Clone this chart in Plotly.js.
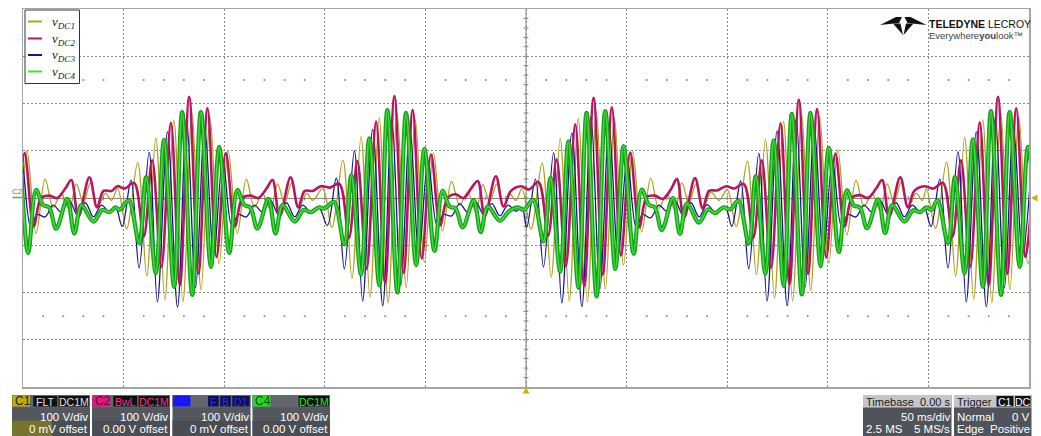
<!DOCTYPE html>
<html>
<head>
<meta charset="utf-8">
<script src="https://cdn.plot.ly/plotly-3.0.1.min.js"></script>
<style>
  html, body { margin: 0; padding: 0; background: #ffffff; overflow: hidden; }
  #scope { width: 1041px; height: 436px; }
</style>
</head>
<body>
<div id="scope"></div>
<script>
// Turning points of each channel: time in ms, voltage in V (100 V/div, 50 ms/div)
const tDC1 = [-7, -2.5, 2, 6.5, 11, 15, 19, 23, 26.5, 30, 33.5, 37, 41, 44, 47,
  51.5, 57, 61.5, 66, 70.5, 75, 79.5, 84, 88.5, 93, 97.5, 102, 106.5, 111, 115, 119, 123, 126.5, 130, 133.5, 137, 141, 144, 149,
  153.5, 159, 163.5, 168, 172.5, 177, 181.5, 186, 190.5, 195, 199.5, 204, 208.5, 213, 217, 221, 225, 228.5, 232, 235.5, 239, 242, 245, 248,
  252.5, 258, 262.5, 267, 271.5, 276, 280.5, 285, 289.5, 294, 298.5, 303, 307.5, 312, 316, 320, 324, 327.5, 331, 334.5, 338, 342, 346, 350,
  354.5, 360, 364.5, 369, 373.5, 378, 382.5, 387, 391.5, 396, 400.5, 405, 409.5, 414, 418, 422, 426, 429.5, 433, 436.5, 440, 444, 447, 449,
  453.5, 459, 463.5, 468, 472.5, 477, 481.5, 486, 490.5, 495, 499.5, 504];
const vDC1 = [170, -140, 100, -75, 40, -20, 10, -25, 30, -10, 32, -20, 10, -5, 20,
  -65, 75, -165, 127, -215, 165, -220, 180, -195, 170, -140, 100, -75, 40, -20, 10, -25, 30, -10, 32, -20, 10, -5, 20,
  -62, 80, -170, 130, -210, 170, -222, 178, -190, 165, -135, 95, -70, 35, -15, 12, -28, 28, -8, 30, -18, 8, -5, 20,
  -66, 74, -168, 126, -218, 168, -220, 182, -192, 168, -142, 98, -72, 42, -22, 8, -24, 32, -12, 30, -22, 12, -5, 18,
  -60, 78, -162, 124, -212, 162, -218, 178, -196, 172, -138, 102, -78, 38, -18, 10, -26, 30, -10, 34, -20, 10, -5, 20,
  -64, 76, -166, 128, -214, 166, -222, 180, -194, 170, -140, 100];

const tDC2 = [-8.3, -3.8, 0.8, 5.3, 9, 13, 17, 21, 24, 27.5, 33, 36.8, 40, 44, 47,
  50.5, 55.2, 60, 64.2, 68.8, 73.5, 78, 82.6, 87.2, 91.7, 96.2, 100.8, 105.3, 109, 113, 117, 121, 124, 127.5, 133, 136.8, 140, 144, 148,
  152.5, 157.2, 162, 166.2, 170.8, 175.5, 180, 184.6, 189.2, 193.7, 198.2, 202.8, 207.3, 211, 215, 219, 223, 226, 229.5, 235, 238.8, 242.5, 247.5,
  251.5, 256.2, 261, 265.2, 269.8, 274.5, 279, 283.6, 288.2, 292.7, 297.2, 301.8, 306.3, 310, 314, 318, 322, 325, 328.5, 334, 337.8, 341, 345, 349.5,
  353.5, 358.2, 363, 367.2, 371.8, 376.5, 381, 385.6, 390.2, 394.7, 399.2, 403.8, 408.3, 412, 416, 420, 424, 427, 430.5, 436, 439.8, 443, 448,
  452.5, 457.2, 462, 466.2, 470.8, 475.5, 480, 484.6, 489.2, 493.7, 498.2, 502.8];
const vDC2 = [190, -125, 95, -60, 0, 5, 0, 20, 38, -40, 44, -20, 15, 15, 25,
  20, 32, -82, 80, -146, 159, -184, 214, -160, 190, -125, 95, -60, 0, 5, 0, 20, 38, -40, 44, -20, 15, 15, 25,
  22, 30, -85, 78, -150, 162, -180, 216, -158, 186, -128, 92, -58, 0, 8, 0, 22, 36, -38, 46, -18, 15, 25,
  18, 34, -80, 82, -144, 156, -186, 212, -162, 192, -122, 96, -62, 2, 5, -2, 18, 40, -42, 42, -22, 15, 16, 25,
  20, 30, -84, 80, -148, 158, -182, 208, -160, 188, -126, 94, -60, 0, 6, 0, 20, 38, -40, 44, -20, 15, 25,
  20, 32, -82, 80, -146, 160, -184, 214, -160, 190, -125, 95];

const tDC3 = [-9.7, -5.2, -0.7, 3.8, 7, 11, 15, 19, 23, 27, 31, 35, 39, 43, 46,
  49.3, 53.7, 57.7, 62.7, 66.8, 71.8, 76.8, 81.3, 85.8, 90.3, 94.8, 99.3, 103.8, 107, 111, 115, 119, 123, 127, 131, 135, 139, 143, 147,
  151.3, 155.7, 159.7, 164.7, 168.8, 173.8, 178.8, 183.3, 187.8, 192.3, 196.8, 201.3, 205.8, 209, 213, 217, 221, 225, 229, 233, 237, 241, 245, 248,
  250.3, 254.7, 258.7, 263.7, 267.8, 272.8, 277.8, 282.3, 286.8, 291.3, 295.8, 300.3, 304.8, 308, 312, 316, 320, 324, 328, 332, 336, 340, 344, 349,
  352.3, 356.7, 360.7, 365.7, 369.8, 374.8, 379.8, 384.3, 388.8, 393.3, 397.8, 402.3, 406.8, 410, 414, 418, 422, 426, 430, 434, 438, 442, 446, 448,
  451.3, 455.7, 459.7, 464.7, 468.8, 473.8, 478.8, 483.3, 487.8, 492.3, 496.8, 501.3];
const vDC3 = [150, -120, 80, -60, -35, -40, -15, -30, -5, -35, -10, -40, -15, -30, -20,
  -60, 38, -148, 97, -220, 140, -231, 170, -190, 150, -120, 80, -60, -35, -40, -15, -30, -5, -35, -10, -40, -15, -30, -20,
  -58, 42, -150, 100, -218, 145, -228, 168, -185, 148, -118, 78, -58, -35, -38, -12, -30, -8, -35, -12, -38, -15, -28, -20,
  -62, 40, -146, 96, -222, 138, -230, 172, -192, 152, -122, 82, -62, -35, -42, -15, -28, -5, -36, -10, -40, -14, -30, -20,
  -60, 36, -150, 95, -218, 142, -228, 168, -188, 148, -118, 78, -60, -35, -40, -15, -30, -5, -35, -10, -40, -15, -30, -20,
  -60, 40, -148, 98, -220, 140, -230, 170, -190, 150, -120, 80];

const tDC4 = [-11.6, -6.6, -2.5, 2.5, 6.5, 10, 13, 16.5, 22, 25.5, 29, 35, 39.5, 43, 46,
  48, 52.5, 57.7, 61.2, 66, 70.1, 75.1, 79.1, 84.1, 88.4, 93.4, 97.5, 102.5, 106.5, 110, 113, 116.5, 122, 125.5, 129, 135, 139.5, 143, 147,
  150, 154.5, 159.7, 163.2, 168, 172.1, 177.1, 181.1, 186.1, 190.4, 195.4, 199.5, 204.5, 208.5, 212, 215, 218.5, 224, 227.5, 231, 237, 241.5, 246,
  249, 253.5, 258.7, 262.2, 267, 271.1, 276.1, 280.1, 285.1, 289.4, 294.4, 298.5, 303.5, 307.5, 311, 314, 317.5, 323, 326.5, 330, 336, 340.5, 344, 348,
  351.5, 355.5, 360.7, 364.2, 369, 373.1, 378.1, 382.1, 387.1, 391.4, 396.4, 400.5, 405.5, 409.5, 413, 416, 419.5, 425, 428.5, 432, 438, 442.5, 446, 449,
  451.5, 454.5, 459.7, 463.2, 468, 472.1, 477.1, 481.1, 486.1, 490.4, 495.4, 499.5, 504.5];
const vDC4 = [182, -146, 108, -116, 17, -15, -20, -65, -2, -75, -15, -50, -25, -30, -20,
  -25, -5, -95, 44, -159, 123, -188, 182, -205, 182, -146, 108, -116, 17, -15, -20, -65, -2, -75, -15, -50, -25, -30, -20,
  -22, -8, -98, 48, -162, 126, -185, 186, -200, 180, -142, 104, -112, 15, -18, -22, -62, -5, -72, -18, -48, -28, -20,
  -25, -4, -92, 42, -156, 120, -190, 180, -208, 184, -150, 110, -118, 18, -14, -20, -68, 0, -76, -12, -52, -24, -32, -20,
  -24, -6, -96, 46, -160, 122, -186, 178, -204, 180, -144, 106, -114, 16, -16, -20, -64, -3, -74, -15, -50, -26, -30, -20,
  -25, -5, -95, 44, -159, 124, -188, 184, -205, 182, -146, 108, -116];

// Legend labels and channel readouts
const legendLabels = ['<i>v</i><sub><i>DC1</i></sub>', '<i>v</i><sub><i>DC2</i></sub>',
                      '<i>v</i><sub><i>DC3</i></sub>', '<i>v</i><sub><i>DC4</i></sub>'];
const channelNames = ['C1', 'C2', 'C3', 'C4'];
const voltsPerDiv = ['100 V/div', '100 V/div', '100 V/div', '100 V/div'];
const offsets = ['0 mV offset', '0.00 V offset', '0 mV offset', '0.00 V offset'];
const channelTags = [['FLT', 'DC1M'], ['BwL', 'DC1M'], ['F', 'B', 'D1'], ['DC1M']];

// ---- styling ----
const COL = { c1: '#aca21c', c2: '#b8145f', c3: '#16168c', c4dark: '#16a016', c4: '#40e040' };
const W = 1041, H = 436, L = 23, R = 1029, T = 9, B = 387;
const X0 = 0, X1 = 500, Y0 = -400, Y1 = 400;
const px = x => (x - L) / (R - L);
const py = y => (B - y) / (B - T);
const pathPx = pts => 'M ' + pts.map(p => px(p[0]).toFixed(5) + ' ' + py(p[1]).toFixed(5)).join(' L ') + ' Z';
const SANS = 'Liberation Sans, Arial, sans-serif';

const shapes = [];
const ann = [];
function rect(x0, y0, x1, y1, fill, line) {
  shapes.push({ type: 'rect', xref: 'paper', yref: 'paper', x0: px(x0), x1: px(x1), y0: py(y1), y1: py(y0),
    fillcolor: fill, line: line || { width: 0 }, layer: 'above' });
}
function seg(x0, y0, x1, y1, color, width) {
  shapes.push({ type: 'line', xref: 'paper', yref: 'paper', x0: px(x0), x1: px(x1), y0: py(y0), y1: py(y1),
    line: { color: color, width: width }, layer: 'above' });
}
function poly(pts, fill) {
  shapes.push({ type: 'path', xref: 'paper', yref: 'paper', path: pathPx(pts), fillcolor: fill, line: { width: 0 }, layer: 'above' });
}
function label(x, y, text, size, color, anchor, family) {
  ann.push({ xref: 'paper', yref: 'paper', x: px(x), y: py(y), text: text, showarrow: false,
    xanchor: anchor || 'left', yanchor: 'middle', borderpad: 0,
    font: { size: size, color: color, family: family || SANS } });
}

// centre cross with fine divisions
shapes.push({ type: 'line', xref: 'x', yref: 'y', x0: 250, x1: 250, y0: Y0, y1: Y1, line: { color: '#858585', width: 1 }, layer: 'below' });
for (let v = Y0 + 20; v < Y1; v += 20) {
  shapes.push({ type: 'line', xref: 'x', yref: 'y', x0: 248.8, x1: 251.2, y0: v, y1: v, line: { color: '#858585', width: 1 }, layer: 'below' });
}
for (let t = X0 + 10; t < X1; t += 10) {
  shapes.push({ type: 'line', xref: 'x', yref: 'y', x0: t, x1: t, y0: -5, y1: 5, line: { color: '#858585', width: 1 }, layer: 'below' });
}
// dotted level rows at +/- 2.5 div
const dotT = [], dotV = [];
for (let t = 10; t < X1; t += 10) {
  if (t % 50 === 0) continue;
  dotT.push(t, t); dotV.push(250, -250);
}

// legend box
rect(25, 10, 79.5, 83.5, '#ffffff', { color: '#333333', width: 1 });
const legendColors = [COL.c1, COL.c2, COL.c3, COL.c4];
const legendY = [21.5, 38.5, 55, 71.5];
legendLabels.forEach((lab, i) => {
  seg(28, legendY[i], 42, legendY[i], legendColors[i], 2);
  label(51, legendY[i] + 1, lab, 13, '#222222', 'left', 'Liberation Serif, DejaVu Serif, serif');
});

// channel marker on the left, trigger markers
label(17, 192, 'C2', 8, '#3a8f3a', 'center');
seg(12.5, 197.5, 23, 197.5, '#2ecc2e', 1.5);
poly([[1031, 198], [1037.5, 194.5], [1037.5, 201.5]], '#c8b400');
poly([[526, 387.5], [522.5, 393.5], [529.5, 393.5]], '#c8b400');

// brand mark
poly([[880, 25], [896, 17], [902, 17], [899, 23]], '#111111');
poly([[926.5, 25], [910.5, 17], [904.5, 17], [907.5, 23]], '#111111');
poly([[893, 23.5], [900.5, 23.5], [903, 35]], '#111111');
poly([[913.5, 23.5], [906, 23.5], [903.5, 35]], '#111111');
label(928, 24, '<b>TELEDYNE</b> LECROY', 10.5, '#111111', 'left');
label(928, 35, 'Everywhere<b>you</b>look™', 9.5, '#444444', 'left');

// channel readout panels
const panelX = [[12, 90], [92, 170], [172.5, 250.5], [252.5, 330]];
const labelBg = ['#bdb000', '#e8167e', '#1a1aff', '#1fe01f'];
const labelFg = ['#222222', '#6a0030', '#1414e0', '#0d4d0d'];
const tagBg = ['#111111', '#111111', '#10104a', '#111111'];
const tagFg = ['#e0e0e0', '#ff2a90', '#2a2aff', '#22ee22'];
channelNames.forEach((name, i) => {
  const [x0, x1] = panelX[i];
  rect(x0, 395, x1, 436, '#54585e');
  rect(x0, 395, x1, 407.5, '#63676d');
  rect(x0, 420.5, x1, 436, '#4a4e54');
  if (i === 0) rect(x0, 420.5, x0 + 40, 436, '#77742f');
  rect(x0 + 0.5, 395.5, x0 + 18, 406.5, labelBg[i]);
  label(x0 + 1.5, 401.3, name, 12, labelFg[i], 'left');
  // tags from the right edge leftwards
  let xr = x1 - 1;
  const tags = channelTags[i].slice().reverse();
  tags.forEach(tag => {
    const w = tag.length * 6.6 + 4;
    rect(xr - w, 396, xr, 406.5, tagBg[i]);
    label(xr - w / 2, 401.5, tag, 10.5, tagFg[i], 'center');
    xr -= w + 1.5;
  });
  label(x1 - 1, 416.5, voltsPerDiv[i], 11.5, '#ffffff', 'right');
  label(x1 - 1, 428.5, offsets[i], 11.5, '#ffffff', 'right');
});

// timebase and trigger panels
rect(863, 395, 951.5, 436, '#50545a');
rect(863, 395, 951.5, 407.5, '#c4c6c9');
label(864.5, 401.5, 'Timebase', 11, '#1a1a1a', 'left');
label(950.5, 401.5, '0.00 s', 11, '#1a1a1a', 'right');
label(950.5, 416.5, '50 ms/div', 11.5, '#ffffff', 'right');
label(864.5, 428.5, '2.5 MS', 11.5, '#ffffff', 'left');
label(950.5, 428.5, '5 MS/s', 11.5, '#ffffff', 'right');

rect(954, 395, 1031.5, 436, '#50545a');
rect(954, 395, 1031.5, 407.5, '#c4c6c9');
label(955.5, 401.5, 'Trigger', 11, '#1a1a1a', 'left');
rect(996.5, 396, 1013.5, 406.5, '#111111');
label(1005, 401.5, 'C1', 10.5, '#ffffff', 'center');
rect(1015, 396, 1030.5, 406.5, '#111111');
label(1022.7, 401.5, 'DC', 10.5, '#ffffff', 'center');
label(955.5, 416.5, 'Normal', 11.5, '#ffffff', 'left');
label(1030.5, 416.5, '0 V', 11.5, '#ffffff', 'right');
label(955.5, 428.5, 'Edge', 11.5, '#ffffff', 'left');
label(1030.5, 428.5, 'Positive', 11.5, '#ffffff', 'right');

const lineOf = (color, width) => ({ shape: 'spline', smoothing: 1, color: color, width: width });
const data = [
  { type: 'scatter', mode: 'markers', x: dotT, y: dotV, marker: { size: 2, color: '#8a8a8a' }, hoverinfo: 'skip', showlegend: false },
  { type: 'scatter', mode: 'lines', name: 'vDC1', x: tDC1, y: vDC1, line: lineOf(COL.c1, 1.3), hoverinfo: 'skip', showlegend: false },
  { type: 'scatter', mode: 'lines', name: 'vDC3', x: tDC3, y: vDC3, line: lineOf(COL.c3, 1.3), hoverinfo: 'skip', showlegend: false },
  { type: 'scatter', mode: 'lines', name: 'vDC2', x: tDC2, y: vDC2, line: lineOf(COL.c2, 2.6), hoverinfo: 'skip', showlegend: false },
  { type: 'scatter', mode: 'lines', name: 'vDC4', x: tDC4, y: vDC4, line: lineOf(COL.c4dark, 4.2), hoverinfo: 'skip', showlegend: false },
  { type: 'scatter', mode: 'lines', name: 'vDC4', x: tDC4, y: vDC4, line: lineOf(COL.c4, 1.6), hoverinfo: 'skip', showlegend: false }
];

const layout = {
  width: W, height: H,
  margin: { l: L, r: W - R, t: T, b: H - B, pad: 0 },
  paper_bgcolor: '#ffffff', plot_bgcolor: '#ffffff',
  showlegend: false,
  xaxis: { range: [X0, X1], dtick: 50, tick0: 0, showgrid: true, gridcolor: '#8a8a8a', griddash: '2px,2px', gridwidth: 1,
           showline: true, mirror: true, linecolor: '#a5a5a5', linewidth: 1.5, zeroline: false, showticklabels: false, ticks: '', fixedrange: true },
  yaxis: { range: [Y0, Y1], dtick: 100, tick0: 0, showgrid: true, gridcolor: '#8a8a8a', griddash: '2px,2px', gridwidth: 1,
           showline: true, mirror: true, linecolor: '#a5a5a5', linewidth: 1.5, zeroline: true, zerolinecolor: '#858585', zerolinewidth: 1,
           showticklabels: false, ticks: '', fixedrange: true },
  shapes: shapes,
  annotations: ann
};

Plotly.newPlot('scope', data, layout, { staticPlot: true, displayModeBar: false });
</script>
</body>
</html>
